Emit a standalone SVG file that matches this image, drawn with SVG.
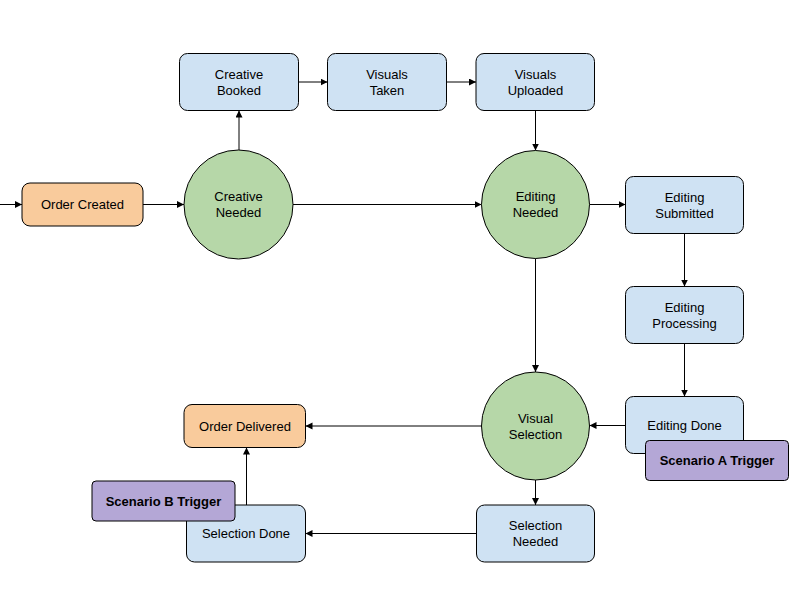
<svg xmlns="http://www.w3.org/2000/svg" width="800" height="600" viewBox="0 0 800 600">
<defs>
<marker id="arr" markerUnits="userSpaceOnUse" markerWidth="8" markerHeight="8" refX="7" refY="3.5" orient="auto">
<path d="M0,0 L7,3.5 L0,7 z" fill="#000"/>
</marker>
<style>
.box{stroke:#000;stroke-width:1}
.orange{fill:#f9cb9c}
.blue{fill:#cfe2f3}
.green{fill:#b6d7a8}
.purple{fill:#b4a7d6}
text{font-family:"Liberation Sans",Arial,sans-serif;font-size:13px;fill:#000;text-anchor:middle}
.b{font-weight:bold}
.c line{stroke:#000;stroke-width:1;marker-end:url(#arr)}
</style>
</defs>
<rect width="800" height="600" fill="#fff"/>
<g class="c" id="connectors">
<line x1="0" y1="204.5" x2="22" y2="204.5"/>
<line x1="143" y1="204.5" x2="184" y2="204.5"/>
<line x1="239" y1="150" x2="239" y2="110.5"/>
<line x1="298.5" y1="82" x2="327.5" y2="82"/>
<line x1="446.5" y1="82" x2="476" y2="82"/>
<line x1="535.5" y1="110.5" x2="535.5" y2="150.5"/>
<line x1="293" y1="204.5" x2="481.5" y2="204.5"/>
<line x1="589.5" y1="204.5" x2="625.5" y2="204.5"/>
<line x1="684.5" y1="233.5" x2="684.5" y2="286.5"/>
<line x1="684.5" y1="343.5" x2="684.5" y2="396.5"/>
<line x1="535.5" y1="258.5" x2="535.5" y2="372"/>
<line x1="625.5" y1="425.5" x2="589.5" y2="425.5"/>
<line x1="481.5" y1="426" x2="305.5" y2="426"/>
<line x1="535.5" y1="480" x2="535.5" y2="505"/>
<line x1="476.5" y1="533.5" x2="305.5" y2="533.5"/>
<line x1="246.5" y1="505" x2="246.5" y2="447.5"/>
</g>
<g id="order-created"><rect class="box orange" x="22" y="183" width="121" height="43" rx="8"/><text x="82.5" y="209">Order Created</text></g>
<g id="creative-needed"><circle class="box green" cx="238.5" cy="204.5" r="54.5"/><text x="238.5" y="201">Creative</text><text x="238.5" y="217">Needed</text></g>
<g id="creative-booked"><rect class="box blue" x="179.5" y="53.5" width="119" height="57" rx="8"/><text x="239" y="78.5">Creative</text><text x="239" y="94.5">Booked</text></g>
<g id="visuals-taken"><rect class="box blue" x="327.5" y="53.5" width="119" height="57" rx="8"/><text x="387" y="78.5">Visuals</text><text x="387" y="94.5">Taken</text></g>
<g id="visuals-uploaded"><rect class="box blue" x="476" y="53.5" width="118.5" height="57" rx="8"/><text x="535.5" y="78.5">Visuals</text><text x="535.5" y="94.5">Uploaded</text></g>
<g id="editing-needed"><circle class="box green" cx="535.5" cy="204.5" r="54"/><text x="535.5" y="201">Editing</text><text x="535.5" y="217">Needed</text></g>
<g id="editing-submitted"><rect class="box blue" x="625.5" y="176.5" width="118" height="57" rx="8"/><text x="684.5" y="201.5">Editing</text><text x="684.5" y="217.5">Submitted</text></g>
<g id="editing-processing"><rect class="box blue" x="625.5" y="286.5" width="118" height="57" rx="8"/><text x="684.5" y="311.5">Editing</text><text x="684.5" y="327.5">Processing</text></g>
<g id="editing-done"><rect class="box blue" x="625.5" y="396.5" width="118" height="57" rx="8"/><text x="684.5" y="430">Editing Done</text></g>
<g id="visual-selection"><circle class="box green" cx="535.5" cy="426" r="54"/><text x="535.5" y="422.5">Visual</text><text x="535.5" y="438.5">Selection</text></g>
<g id="order-delivered"><rect class="box orange" x="184" y="404.5" width="121.5" height="43" rx="8"/><text x="245" y="430.5">Order Delivered</text></g>
<g id="selection-needed"><rect class="box blue" x="476.5" y="505" width="118" height="57" rx="8"/><text x="535.5" y="530">Selection</text><text x="535.5" y="546">Needed</text></g>
<g id="selection-done"><rect class="box blue" x="186.5" y="505" width="119" height="57" rx="8"/><text x="246" y="538">Selection Done</text></g>
<g id="scenario-a"><rect class="box purple" x="645.5" y="440.5" width="143" height="40" rx="4"/><text class="b" x="717" y="465">Scenario A Trigger</text></g>
<g id="scenario-b"><rect class="box purple" x="92" y="481" width="143" height="40" rx="4"/><text class="b" x="163.5" y="505.5">Scenario B Trigger</text></g>
</svg>
